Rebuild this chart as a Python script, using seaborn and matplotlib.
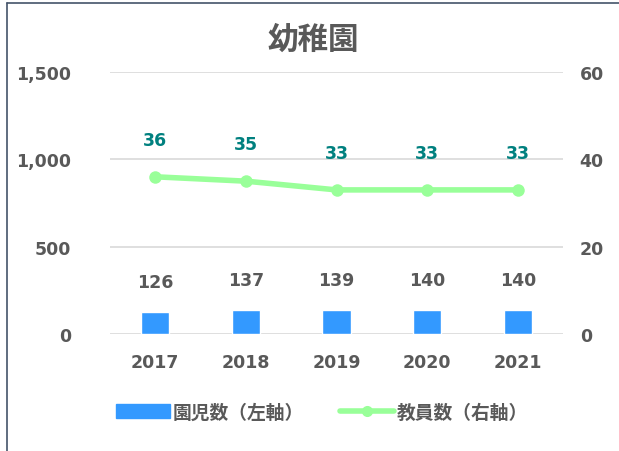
import seaborn as sns
import matplotlib.pyplot as plt
import pandas as pd
from matplotlib.lines import Line2D

years = ['2017', '2018', '2019', '2020', '2021']
children = [126, 137, 139, 140, 140]
teachers = [36, 35, 33, 33, 33]

df = pd.DataFrame({'year': years, 'children': children, 'teachers': teachers})

sns.set_style('white')
plt.rcParams['font.family'] = ['DejaVu Sans', 'Noto Sans CJK JP']
txt = '#595959'
fs = 12.5

fig = plt.figure(figsize=(6.19, 4.52), dpi=100)
ax = fig.add_axes([110 / 619, 1 - 335 / 452, 453 / 619, 262 / 452])

sns.barplot(data=df, x='year', y='children', color='#3399FF', width=0.31,
            saturation=1, ax=ax, zorder=3)
ax.set_ylim(0, 1500)
ax.set_xlim(-0.5, 4.5)
ax.set_yticks([0, 500, 1000, 1500])
ax.set_yticklabels(['0', '500', '1,000', '1,500'])
ax.yaxis.grid(True, color='#D9D9D9', lw=1.2)
ax.set_axisbelow(True)
for s in ax.spines.values():
    s.set_visible(False)
ax.tick_params(axis='both', length=0, labelsize=fs, labelcolor=txt)
ax.tick_params(axis='x', pad=14)
ax.tick_params(axis='y', pad=28)
for t in ax.get_xticklabels() + ax.get_yticklabels():
    t.set_fontweight('bold')
ax.set_xlabel('')
ax.set_ylabel('')
for i, v in enumerate(children):
    ax.annotate(str(v), (i, v), xytext=(0, 15), textcoords='offset points',
                ha='center', va='bottom', fontsize=fs, fontweight='bold', color=txt)

ax2 = ax.twinx()
sns.lineplot(x=list(range(len(years))), y=teachers, color='#99FF99', lw=4,
             marker='o', markersize=9, markeredgewidth=0, ax=ax2, zorder=4)
ax2.set_ylim(0, 60)
ax2.set_yticks([0, 20, 40, 60])
ax2.tick_params(axis='y', length=0, labelsize=fs, labelcolor=txt, pad=12)
for t in ax2.get_yticklabels():
    t.set_fontweight('bold')
for s in ax2.spines.values():
    s.set_visible(False)
ax2.set_ylabel('')
for i, v in enumerate(teachers):
    ax2.annotate(str(v), (i, v), xytext=(0, 20), textcoords='offset points',
                 ha='center', va='bottom', fontsize=fs, fontweight='bold', color='#00807F')

fig.text(313 / 619, 1 - 40 / 452, '幼稚園', ha='center', va='center', fontsize=22,
         fontweight='bold', color=txt, family=['Noto Sans CJK JP', 'DejaVu Sans'])

handles = [plt.Rectangle((0, 0), 1, 1, color='#3399FF'),
           Line2D([], [], color='#99FF99', lw=4, marker='o', markersize=8, markeredgewidth=0)]
leg = fig.legend(handles, ['園児数（左軸）', '教員数（右軸）'], loc='center',
                 bbox_to_anchor=(322 / 619, 1 - 413 / 452), ncol=2, frameon=False,
                 handlelength=2.9, handleheight=0.7, columnspacing=1.9, handletextpad=0.15,
                 prop={'family': ['Noto Sans CJK JP', 'DejaVu Sans'], 'weight': 'bold', 'size': 13.5})
for t in leg.get_texts():
    t.set_color(txt)

fig.add_artist(Line2D([7 / 619, 7 / 619], [0, 1 - 4 / 452], color='#44546A', lw=1.2))
fig.add_artist(Line2D([7 / 619, 1], [1 - 4 / 452, 1 - 4 / 452], color='#44546A', lw=1.2))

fig.savefig('out.png', dpi=100)
